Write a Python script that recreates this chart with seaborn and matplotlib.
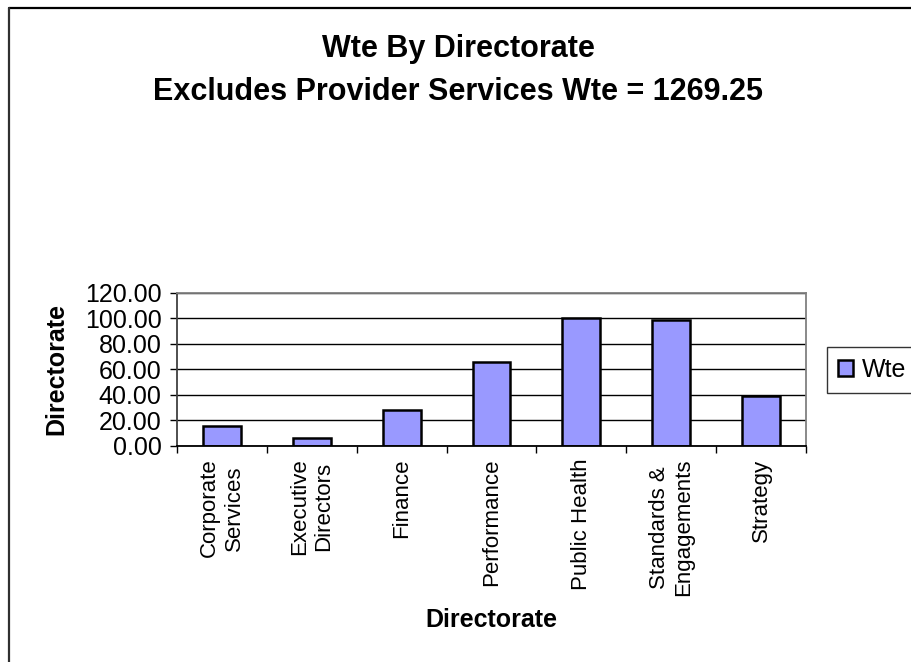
import matplotlib
matplotlib.use("Agg")
import matplotlib.pyplot as plt
from matplotlib.lines import Line2D
from matplotlib.ticker import FixedLocator, MultipleLocator, FormatStrFormatter
import seaborn as sns
import pandas as pd

# Whole-time-equivalent staff per directorate
directorates = [
    "Corporate\nServices",
    "Executive\nDirectors",
    "Finance",
    "Performance",
    "Public Health",
    "Standards &\nEngagements",
    "Strategy",
]
wte = [15.6, 6.5, 28.2, 66.0, 100.0, 98.4, 38.9]
series_name = "Wte"
title_text = "Wte By Directorate\nExcludes Provider Services Wte = 1269.25"
x_label = "Directorate"
y_label = "Directorate"

df = pd.DataFrame({"Directorate": directorates, "Wte": wte})

sns.set_theme(style="white")
plt.rcParams["font.family"] = ["Liberation Sans", "DejaVu Sans"]
for key in ("text.color", "axes.labelcolor", "xtick.color", "ytick.color"):
    plt.rcParams[key] = "black"

fig = plt.figure(figsize=(9.11, 6.62), dpi=100)
fig.patch.set_facecolor("white")
ax = fig.add_axes([0.1943, 0.3263, 0.6904, 0.2315])

sns.barplot(
    data=df, x="Directorate", y="Wte", ax=ax,
    color="#9999FF", saturation=1, width=0.42,
    edgecolor="black", linewidth=1.8, label=series_name,
)

ax.set_ylim(0, 120)
ax.set_xlim(-0.5, len(directorates) - 0.5)
ax.yaxis.set_major_locator(MultipleLocator(20))
ax.yaxis.set_major_formatter(FormatStrFormatter("%.2f"))
ax.grid(axis="y", color="black", linewidth=1.0)
ax.set_axisbelow(True)

# category labels sit between the boundary tick marks
ax.xaxis.set_minor_locator(FixedLocator([i - 0.5 for i in range(len(directorates) + 1)]))
ax.tick_params(axis="x", which="major", length=0, pad=9)
ax.tick_params(axis="x", which="minor", length=5, width=1, color="black", direction="out", bottom=True)
ax.tick_params(axis="y", length=5, width=1, color="black", direction="out", left=True,
               labelsize=18, pad=6)
ax.set_xticks(range(len(directorates)))
ax.set_xticklabels(directorates, rotation=90, fontsize=16, va="top", ha="center",
                   multialignment="center")

for side, col in (("left", "#404040"), ("bottom", "black"), ("top", "#808080"), ("right", "#808080")):
    ax.spines[side].set_visible(True)
    ax.spines[side].set_color(col)
    ax.spines[side].set_linewidth(1.3)

ax.set_xlabel(x_label, fontsize=18, fontweight="bold", labelpad=9)
ax.set_ylabel(y_label, fontsize=18, fontweight="bold", labelpad=12)
if ax.get_legend():
    ax.get_legend().remove()

fig.text(0.503, 0.8935, title_text, ha="center", va="center", fontsize=22,
         fontweight="bold", linespacing=1.55)

handles, labels = ax.get_legend_handles_labels()
leg = fig.legend(handles, labels, loc="center left", bbox_to_anchor=(0.908, 0.441),
                 fontsize=18, frameon=True, fancybox=False, edgecolor="black",
                 handlelength=0.6, handleheight=0.6, handletextpad=0.35,
                 borderpad=0.45, borderaxespad=0)
leg.get_frame().set_linewidth(1.0)

# chart-area border (top and left edges)
fig.add_artist(Line2D([8.5 / 911, 1.0], [1 - 7.5 / 662, 1 - 7.5 / 662],
                      transform=fig.transFigure, color="black", linewidth=1.6))
fig.add_artist(Line2D([8.5 / 911, 8.5 / 911], [0.0, 1 - 7.5 / 662],
                      transform=fig.transFigure, color="#303030", linewidth=1.6))

fig.savefig("out.png", dpi=100)
